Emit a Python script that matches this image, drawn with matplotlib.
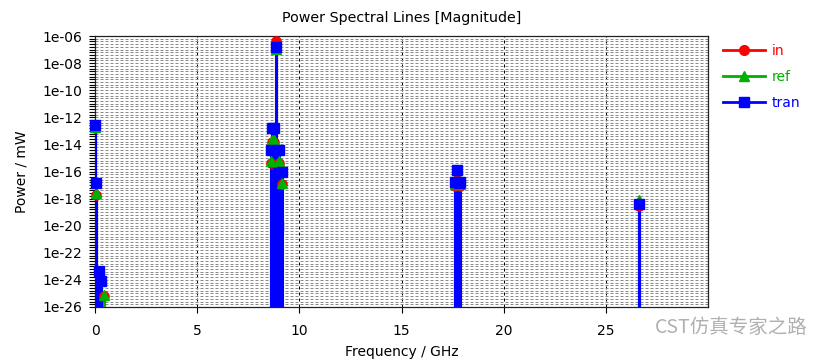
import numpy as np
import matplotlib
matplotlib.use("Agg")
import matplotlib.pyplot as plt
from matplotlib.ticker import FixedLocator, NullFormatter
from matplotlib.lines import Line2D

######## DATA ########

# spectral lines, frequency in GHz, power in mW
in_freq = [0.00, 0.05, 0.42, 8.86, 8.68, 8.77, 8.62, 9.02, 9.16, 17.63, 17.73, 17.87, 26.64]
in_power = [1.6e-13, 1.9e-18, 6e-26, 4.3e-7, 1.6e-14, 1.6e-14, 4.6e-16, 4.6e-16, 1.15e-17,
            8e-18, 1e-16, 9e-18, 3e-19]

ref_freq = [0.00, 0.05, 0.42, 8.86, 8.68, 8.77, 8.62, 9.02, 9.16, 17.63, 17.73, 17.87, 26.64]
ref_power = [1.9e-13, 2.4e-18, 8e-26, 1.1e-7, 2e-14, 2e-14, 5.5e-16, 5.5e-16, 1.4e-17,
             1.3e-17, 1.4e-16, 1.3e-17, 8e-19]

tran_freq = [0.00, 0.05, 0.21, 0.29, 8.86, 8.68, 8.77, 8.62, 9.02, 9.16,
             8.90, 8.92, 8.89, 8.94, 8.91,
             17.63, 17.73, 17.87, 17.80, 26.64]
tran_power = [2.5e-13, 1.5e-17, 4.5e-24, 9e-25, 1.6e-7, 1.6e-13, 1.6e-13, 3.6e-15, 3.6e-15, 8.5e-17,
              3e-19, 5e-21, 8e-23, 1e-20, 2e-24,
              1.6e-17, 1.2e-16, 1.6e-17, 1.4e-17, 4e-19]

series = [
    ("in", in_freq, in_power, "#ff0000", "o", 6.6),
    ("ref", ref_freq, ref_power, "#00b000", "^", 7.2),
    ("tran", tran_freq, tran_power, "#0000ff", "s", 7.2),
]

y_bottom = 1e-26
y_top = 1e-6

######## PLOT ########

plt.rcParams["font.family"] = ["DejaVu Sans"]
plt.rcParams["font.size"] = 10

fig = plt.figure(figsize=(8.36, 3.64), dpi=100)
ax = fig.add_axes([95 / 836, 1 - 307 / 364, (708 - 95) / 836, (307 - 36) / 364])

for name, f, p, color, marker, ms in series:
    f = np.asarray(f)
    p = np.asarray(p)
    ax.vlines(f, y_bottom, p, colors=color, linewidth=2.2, zorder=3)
    ax.plot(f, p, linestyle="none", marker=marker, markersize=ms, color=color,
            markeredgecolor=color, clip_on=False, zorder=4)

ax.set_yscale("log")
ax.set_xlim(0, 30)
ax.set_ylim(y_bottom, y_top)

major_exp = np.arange(-26, -5, 2)
ax.yaxis.set_major_locator(FixedLocator(10.0 ** major_exp))
ax.set_yticklabels([f"1e-{-e:02d}" for e in major_exp])
minor_exp = [e for e in np.arange(-26, -6 + 0.01, 0.2) if abs(e - round(e / 2) * 2) > 0.01]
ax.yaxis.set_minor_locator(FixedLocator(10.0 ** np.array(minor_exp)))
ax.yaxis.set_minor_formatter(NullFormatter())

ax.set_xticks([0, 5, 10, 15, 20, 25])
ax.xaxis.set_minor_locator(FixedLocator([]))

ax.grid(True, which="both", axis="y", color="#8a8a8a", linewidth=0.72,
        linestyle=(0, (3, 2)), zorder=1)
ax.grid(True, which="major", axis="x", color="#000000", linewidth=0.72,
        linestyle=(0, (3, 3)), zorder=1)

ax.tick_params(axis="both", which="major", direction="out", length=4, width=0.8,
               labelsize=10)
ax.tick_params(axis="x", pad=8)
ax.tick_params(axis="y", which="major", pad=5)
ax.tick_params(axis="y", which="minor", direction="out", length=4, width=0.8)
for s in ax.spines.values():
    s.set_linewidth(0.9)
    s.set_color("#222222")

ax.set_title("Power Spectral Lines [Magnitude]", fontsize=10.3, pad=10)
ax.set_xlabel("Frequency / GHz", fontsize=10, labelpad=5)
ax.set_ylabel("Power / mW", fontsize=10, labelpad=10)

handles = [
    Line2D([], [], color=color, marker=marker, markersize=7, linewidth=2)
    for _, _, _, color, marker, _ in series
]
fig.legend(handles, [s[0] for s in series], loc="upper left",
           bbox_to_anchor=(723 / 836, 1 - 44 / 364), frameon=False,
           borderpad=0, borderaxespad=0, handlelength=3, handletextpad=0.5,
           labelspacing=0.85, numpoints=1, fontsize=10, labelcolor="linecolor")

# watermark
fig.text(655 / 836, 1 - 327 / 364, "CST仿真专家之路", color="#b0b0b0", fontsize=14,
         va="center", ha="left", family=["Noto Sans CJK SC", "DejaVu Sans"])

fig.savefig("out.png", dpi=100)
